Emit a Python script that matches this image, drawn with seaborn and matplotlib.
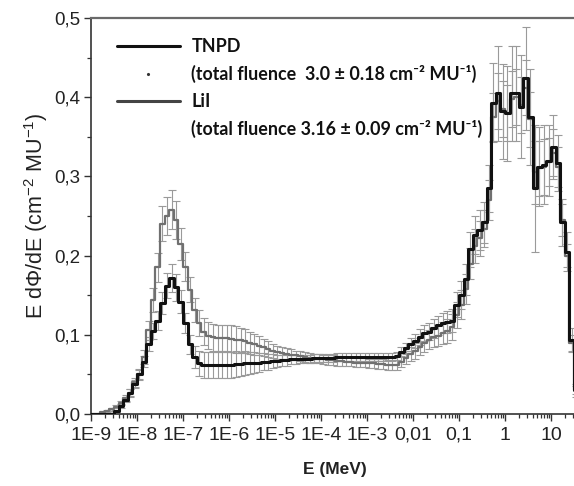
import numpy as np
import pandas as pd
import matplotlib
matplotlib.use("Agg")
import matplotlib.pyplot as plt
import seaborn as sns
from matplotlib.lines import Line2D
from matplotlib.ticker import FixedLocator, FixedFormatter, LogLocator, MultipleLocator, NullFormatter

# ---------------- data (10 lethargy bins per decade, 1E-9 .. 10^1.6 MeV) ----------------
log_e_min = -9.0
bins_per_decade = 10
n_bins = 106

tnpd = (
    [0, 0, 0, 0, 0, 0.004, 0.010, 0.018, 0.027, 0.038] +
    [0.050, 0.066, 0.088, 0.105, 0.118, 0.140, 0.162, 0.172, 0.160, 0.142] +
    [0.115, 0.088, 0.072, 0.064, 0.062, 0.062, 0.062, 0.062, 0.062, 0.062] +
    [0.062, 0.063, 0.063, 0.064, 0.064, 0.065, 0.065, 0.066, 0.066, 0.067] +
    [0.067, 0.068, 0.068, 0.069, 0.069, 0.070, 0.070, 0.070, 0.071, 0.071] +
    [0.071, 0.071, 0.071, 0.072, 0.072, 0.072, 0.072, 0.072, 0.072, 0.072] +
    [0.072, 0.072, 0.072, 0.072, 0.072, 0.072, 0.073, 0.078, 0.083, 0.088] +
    [0.092, 0.097, 0.102, 0.104, 0.108, 0.112, 0.115, 0.116, 0.118, 0.138] +
    [0.150, 0.170, 0.208, 0.226, 0.232, 0.242, 0.285, 0.393, 0.405, 0.382] +
    [0.380, 0.405, 0.405, 0.388, 0.424, 0.375, 0.285, 0.312, 0.315, 0.320] +
    [0.337, 0.317, 0.242, 0.205, 0.093, 0.030]
)
tnpd_err = (
    [0, 0, 0, 0, 0, 0.001, 0.002, 0.003, 0.004, 0.005] +
    [0.006, 0.007, 0.009, 0.010, 0.012, 0.014, 0.016, 0.018, 0.017, 0.015] +
    [0.013, 0.012, 0.014, 0.016, 0.016, 0.016, 0.016, 0.016, 0.016, 0.016] +
    [0.016, 0.016, 0.015, 0.015, 0.014, 0.013, 0.012, 0.011, 0.010, 0.009] +
    [0.008, 0.007, 0.007, 0.006, 0.006, 0.005, 0.005, 0.005, 0.005, 0.005] +
    [0.005, 0.005, 0.005, 0.005, 0.005, 0.005, 0.005, 0.005, 0.005, 0.005] +
    [0.005, 0.005, 0.005, 0.005, 0.005, 0.005, 0.005, 0.006, 0.007, 0.008] +
    [0.009, 0.010, 0.010, 0.011, 0.012, 0.012, 0.013, 0.014, 0.015, 0.016] +
    [0.018, 0.020, 0.022, 0.024, 0.025, 0.026, 0.030, 0.050, 0.060, 0.060] +
    [0.060, 0.060, 0.060, 0.065, 0.065, 0.060, 0.080, 0.050, 0.050, 0.045] +
    [0.040, 0.035, 0.030, 0.025, 0.015, 0.008]
)
lii = (
    [0, 0, 0.002, 0.004, 0.006, 0.009, 0.014, 0.020, 0.027, 0.040] +
    [0.050, 0.072, 0.106, 0.144, 0.185, 0.240, 0.250, 0.258, 0.245, 0.215] +
    [0.186, 0.157, 0.131, 0.115, 0.104, 0.099, 0.097, 0.096, 0.096, 0.096] +
    [0.095, 0.094, 0.093, 0.092, 0.090, 0.088, 0.086, 0.084, 0.082, 0.080] +
    [0.078, 0.077, 0.076, 0.075, 0.074, 0.073, 0.072, 0.071, 0.070, 0.070] +
    [0.069, 0.068, 0.068, 0.067, 0.067, 0.066, 0.066, 0.065, 0.065, 0.065] +
    [0.064, 0.064, 0.063, 0.063, 0.062, 0.062, 0.062, 0.066, 0.071, 0.076] +
    [0.080, 0.085, 0.090, 0.094, 0.097, 0.099, 0.102, 0.105, 0.110, 0.125] +
    [0.138, 0.158, 0.190, 0.212, 0.222, 0.234, 0.270, 0.375, 0.395, 0.385] +
    [0.380, 0.398, 0.400, 0.390, 0.412, 0.372, 0.305, 0.310, 0.312, 0.318] +
    [0.330, 0.312, 0.245, 0.200, 0.090, 0.030]
)
lii_err = (
    [0, 0, 0.001, 0.001, 0.002, 0.002, 0.003, 0.004, 0.005, 0.006] +
    [0.007, 0.009, 0.012, 0.015, 0.018, 0.022, 0.024, 0.025, 0.024, 0.020] +
    [0.018, 0.016, 0.015, 0.016, 0.017, 0.017, 0.017, 0.017, 0.017, 0.017] +
    [0.017, 0.017, 0.016, 0.015, 0.014, 0.013, 0.012, 0.011, 0.010, 0.009] +
    [0.008, 0.008, 0.007, 0.007, 0.006, 0.006, 0.006, 0.006, 0.006, 0.006] +
    [0.006, 0.006, 0.006, 0.006, 0.006, 0.006, 0.006, 0.006, 0.006, 0.006] +
    [0.006, 0.006, 0.006, 0.006, 0.006, 0.006, 0.006, 0.007, 0.008, 0.009] +
    [0.010, 0.011, 0.012, 0.012, 0.013, 0.013, 0.014, 0.015, 0.016, 0.017] +
    [0.018, 0.019, 0.020, 0.021, 0.022, 0.023, 0.025, 0.030, 0.035, 0.035] +
    [0.035, 0.035, 0.035, 0.035, 0.035, 0.035, 0.040, 0.035, 0.035, 0.030] +
    [0.030, 0.025, 0.020, 0.015, 0.010, 0.005]
)

x_tick_values = [1e-9, 1e-8, 1e-7, 1e-6, 1e-5, 1e-4, 1e-3, 1e-2, 1e-1, 1, 10]
x_tick_labels = ["1E-9", "1E-8", "1E-7", "1E-6", "1E-5", "1E-4", "1E-3", "0,01", "0,1", "1", "10"]
y_tick_values = [0.0, 0.1, 0.2, 0.3, 0.4, 0.5]
y_tick_labels = ["0,0", "0,1", "0,2", "0,3", "0,4", "0,5"]

legend_labels = [
    "TNPD",
    "(total fluence  3.0 \u00b1 0.18 cm\u207b\u00b2 MU\u207b\u00b9)",
    "LiI",
    "(total fluence 3.16 \u00b1 0.09 cm\u207b\u00b2 MU\u207b\u00b9)",
]

# ---------------- figure ----------------
sns.set_theme(style="ticks")
plt.rcParams["font.family"] = ["Liberation Sans", "DejaVu Sans"]
plt.rcParams["mathtext.fontset"] = "custom"
plt.rcParams["mathtext.rm"] = "Liberation Sans"

log_edges = log_e_min + np.arange(n_bins + 1) / bins_per_decade
edges = 10 ** log_edges
centers = 10 ** (0.5 * (log_edges[:-1] + log_edges[1:]))

fig = plt.figure(figsize=(5.74, 4.86), dpi=100)
ax = fig.add_axes([91 / 574, 1 - 414 / 486, 487.6 / 574, 396 / 486])

err_color = "#9a9a9a"
for vals, errs in ((lii, lii_err), (tnpd, tnpd_err)):
    v = np.array(vals)
    e = np.array(errs)
    m = v > 0
    ax.errorbar(centers[m], v[m], yerr=e[m], fmt="none", ecolor=err_color,
                elinewidth=0.8, capsize=2.6, capthick=0.8, zorder=1)

df_lii = pd.DataFrame({"E": edges, "flux": lii + [lii[-1]]})
df_tnpd = pd.DataFrame({"E": edges, "flux": tnpd + [tnpd[-1]]})
sns.lineplot(data=df_lii, x="E", y="flux", drawstyle="steps-post", color="#707070",
             lw=1.6, ax=ax, estimator=None, sort=False, zorder=2)
sns.lineplot(data=df_tnpd, x="E", y="flux", drawstyle="steps-post", color="#111111",
             lw=2.2, ax=ax, estimator=None, sort=False, zorder=3)

ax.set_xscale("log")
ax.set_xlim(1e-9, edges[-1])
ax.set_ylim(0, 0.5)

ax.xaxis.set_major_locator(FixedLocator(x_tick_values))
ax.xaxis.set_major_formatter(FixedFormatter(x_tick_labels))
ax.xaxis.set_minor_locator(LogLocator(base=10, subs=np.arange(2, 10), numticks=40))
ax.xaxis.set_minor_formatter(NullFormatter())
ax.yaxis.set_major_locator(FixedLocator(y_tick_values))
ax.yaxis.set_major_formatter(FixedFormatter(y_tick_labels))
ax.yaxis.set_minor_locator(MultipleLocator(0.05))

ax.tick_params(axis="both", which="major", direction="out", length=5, width=1.0,
               color="#333333", labelsize=13.5, labelcolor="#222222", pad=3)
ax.tick_params(axis="both", which="minor", direction="out", length=3, width=0.9,
               color="#333333")
ax.tick_params(axis="x", which="major", labelsize=14, pad=4)

for side in ("left", "bottom"):
    ax.spines[side].set_color("#333333")
    ax.spines[side].set_linewidth(1.2)
ax.spines["top"].set_visible(True)
ax.spines["top"].set_color("#6a6a6a")
ax.spines["top"].set_linewidth(1.6)
ax.spines["right"].set_visible(False)

ax.set_ylabel("E d\u03a6/dE (cm$^{\\mathregular{-2}}$ MU$^{\\mathregular{-1}}$)", fontsize=15.5,
              color="#222222", labelpad=3)
ax.set_xlabel("E (MeV)", fontsize=12.5, fontweight="bold", color="#222222", labelpad=13)

handles = [
    Line2D([], [], color="#111111", lw=2.2),
    Line2D([], [], ls="none", marker=".", ms=2.5, color="#333333"),
    Line2D([], [], color="#444444", lw=2.2),
    Line2D([], [], color="none"),
]
leg = ax.legend(handles, legend_labels, loc="upper left",
                bbox_to_anchor=(117 / 574, 1 - 38 / 486), bbox_transform=fig.transFigure,
                frameon=False, borderpad=0, borderaxespad=0, handlelength=3.5,
                handletextpad=0.65, labelspacing=0.55,
                prop={"family": ["Lato", "Liberation Sans"], "weight": "bold", "size": 12.9})
leg.set_zorder(10)
for t in leg.get_texts():
    t.set_color("#111111")

fig.savefig("out.png", dpi=100, facecolor="white")
